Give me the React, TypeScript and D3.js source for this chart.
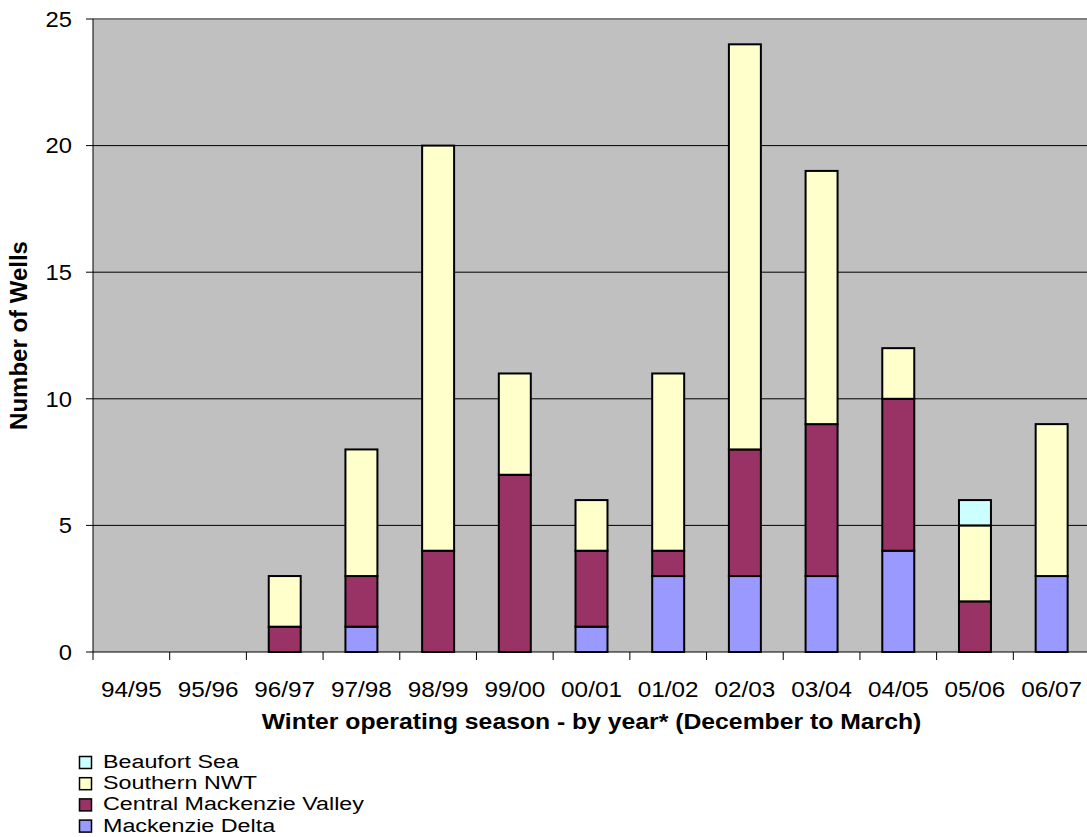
import React from "react";
import * as d3 from "d3";

const seasons = ["94/95", "95/96", "96/97", "97/98", "98/99", "99/00", "00/01", "01/02", "02/03", "03/04", "04/05", "05/06", "06/07"];
const mackenzieDelta = [0, 0, 0, 1, 0, 0, 1, 3, 3, 3, 4, 0, 3];
const centralMackenzieValley = [0, 0, 1, 2, 4, 7, 3, 1, 5, 6, 6, 2, 0];
const southernNWT = [0, 0, 2, 5, 16, 4, 2, 7, 16, 10, 2, 3, 6];
const beaufortSea = [0, 0, 0, 0, 0, 0, 0, 0, 0, 0, 0, 1, 0];
const yTicks = [0, 5, 10, 15, 20, 25];

const seriesNames = ["Mackenzie Delta", "Central Mackenzie Valley", "Southern NWT", "Beaufort Sea"];
const seriesColors = ["#9999FF", "#993366", "#FFFFCC", "#CCFFFF"];
const seriesValues = [mackenzieDelta, centralMackenzieValley, southernNWT, beaufortSea];

function SText(props: { x: number; y: number; sx: number; anchor?: string; size: number; bold?: boolean; dy?: string; children: any }) {
  return (
    <g transform={`translate(${props.x},${props.y}) scale(${props.sx},1)`}>
      <text x={0} y={0} dy={props.dy} textAnchor={props.anchor || "start"} fontSize={props.size}
        fontWeight={props.bold ? "bold" : "normal"} fill="#000">{props.children}</text>
    </g>
  );
}

export default function App() {
  const W = 1087, H = 837;
  const left = 93, right = 1090, top = 19, bottom = 652;
  const x = d3.scaleBand<string>().domain(seasons).range([left, right]).paddingInner(0).paddingOuter(0);
  const y = d3.scaleLinear().domain([0, 25]).range([bottom, top]);
  const barW = x.bandwidth() * 0.417;

  const table = seasons.map((s, i) => {
    const row: any = { season: s };
    seriesNames.forEach((n, k) => (row[n] = seriesValues[k][i]));
    return row;
  });
  const stacked = d3.stack().keys(seriesNames)(table);

  const font = "Liberation Sans, Arial, sans-serif";
  const legendOrder = [3, 2, 1, 0];

  return (
    <svg width={W} height={H} style={{ position: "absolute", left: 0, top: 0 }} fontFamily={font}>
      <rect x={left} y={top} width={right - left} height={bottom - top} fill="#C0C0C0" />
      {yTicks.filter((t) => t > 0 && t < 25).map((t) => (
        <line key={t} x1={left} x2={right} y1={y(t)} y2={y(t)} stroke="#000" strokeWidth={1} />
      ))}
      <line x1={left} x2={right} y1={y(25)} y2={y(25)} stroke="#808080" strokeWidth={2} />
      {stacked.map((layer, k) =>
        layer.map((d, i) => {
          const v = d[1] - d[0];
          if (v <= 0) return null;
          const cx = (x(seasons[i]) as number) + x.bandwidth() / 2;
          return (
            <rect key={k + "-" + i} x={cx - barW / 2} y={y(d[1])} width={barW} height={y(d[0]) - y(d[1])}
              fill={seriesColors[k]} stroke="#000" strokeWidth={2} />
          );
        })
      )}
      <line x1={left} x2={left} y1={top} y2={bottom} stroke="#000" strokeWidth={1} />
      <line x1={left} x2={right} y1={bottom} y2={bottom} stroke="#000" strokeWidth={1} />
      {yTicks.map((t) => (
        <g key={t}>
          <line x1={left - 7} x2={left} y1={y(t)} y2={y(t)} stroke="#000" strokeWidth={1} />
          <SText x={72} y={y(t)} dy="0.35em" anchor="end" size={22} sx={1.08}>{t}</SText>
        </g>
      ))}
      {seasons.map((s, i) => (
        <line key={"t" + i} x1={x(s) as number} x2={x(s) as number} y1={bottom} y2={bottom + 8} stroke="#000" strokeWidth={1} />
      ))}
      {seasons.map((s) => (
        <SText key={s} x={(x(s) as number) + x.bandwidth() / 2} y={697} anchor="middle" size={22.5} sx={1.08}>{s}</SText>
      ))}
      <SText x={(left + right) / 2} y={729} anchor="middle" size={22.5} bold sx={1.1}>
        Winter operating season - by year* (December to March)
      </SText>
      <text transform={`translate(27, ${(top + bottom) / 2}) rotate(-90)`} textAnchor="middle" fontSize={24} fontWeight="bold" fill="#000">
        Number of Wells
      </text>
      {legendOrder.map((k, r) => (
        <g key={"l" + k}>
          <rect x={79.5} y={756.5 + r * 21.2} width={12} height={12} fill={seriesColors[k]} stroke="#000" strokeWidth={1.5} />
          <SText x={103} y={768 + r * 21.2} size={18.2} sx={1.28}>{seriesNames[k]}</SText>
        </g>
      ))}
    </svg>
  );
}
